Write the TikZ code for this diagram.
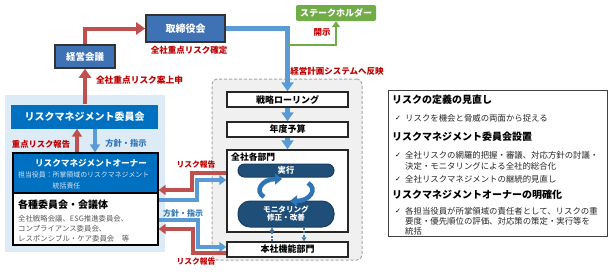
\documentclass[tikz,border=0pt]{standalone}
\usepackage{fontspec}
\setmainfont{Noto Sans CJK JP}
\newfontfamily\djv{DejaVu Sans}
\usetikzlibrary{arrows.meta,calc}
\definecolor{boxblue}{HTML}{3F72B5}
\definecolor{riskblue}{HTML}{0070C0}
\definecolor{panelblue}{HTML}{DDEBF7}
\definecolor{arrred}{HTML}{C0504D}
\definecolor{txtred}{HTML}{C00000}
\definecolor{arrblue}{HTML}{5B9BD5}
\definecolor{txtblue}{HTML}{2E75B6}
\definecolor{stgreen}{HTML}{70AD47}
\definecolor{pillblue}{HTML}{1F4E79}
\definecolor{cycblue}{HTML}{2E75B6}
\definecolor{graytxt}{HTML}{595959}
\definecolor{ownertxt}{HTML}{DDE6F2}
\begin{document}
\begin{tikzpicture}[x=1pt,y=-1pt,
  darkbox/.style={draw=black!80,line width=1.6pt,fill=boxblue,text=white,inner sep=0pt,font=\fontsize{10}{12}\selectfont\bfseries},
  greenbox/.style={fill=stgreen,rounded corners=2pt,text=white,inner sep=0pt,font=\fontsize{9}{11}\selectfont\bfseries},
  flowbox/.style={draw=black!85,line width=1.5pt,fill=white,inner sep=0pt,minimum width=121pt,font=\fontsize{9}{11}\selectfont\bfseries},
  pill/.style={draw=pillblue!80!black,line width=1pt,fill=pillblue,text=white,inner sep=0pt,minimum width=96pt,font=\fontsize{7.6}{9}\selectfont\bfseries,align=center},
  redarr/.style={draw=arrred,line width=4pt,-{Triangle[width=12pt,length=9pt]}},
  bluearr/.style={draw=arrblue,line width=4.5pt,-{Triangle[width=12pt,length=9pt]}},
  redconn/.style={draw=arrred,line width=3.5pt,-{Triangle[width=10pt,length=7pt]}},
  blueconn/.style={draw=arrblue,line width=3.5pt,-{Triangle[width=10pt,length=7pt]}},
  redlbl/.style={text=txtred,inner sep=0pt,font=\fontsize{8.5}{10}\selectfont\bfseries},
  bluelbl/.style={text=txtblue,inner sep=0pt,font=\fontsize{8.3}{10}\selectfont\bfseries},
  head/.style={anchor=west,inner sep=0pt,font=\fontsize{10}{12}\selectfont\bfseries},
  item/.style={anchor=west,inner sep=0pt,text=black!85,font=\fontsize{8.4}{10}\selectfont},
  chk/.style={anchor=west,inner sep=0pt,font=\djv\fontsize{7}{8}\selectfont}
]
\useasboundingbox (0,0) rectangle (613,271);
\fill[white] (0,0) rectangle (613,271);

% panels
\node[fill=panelblue,inner sep=0pt,minimum width=160pt,minimum height=157pt] (lpanel) at (85,173.5) {};
\node[draw=black!35,dashed,dash pattern=on 3pt off 2pt,line width=1pt,fill=black!6,rounded corners=5pt,inner sep=0pt,minimum width=150pt,minimum height=181pt] (cpanel) at (287,169.5) {};

% top boxes
\node[darkbox,minimum width=79pt,minimum height=27pt] (tori) at (185.5,28.5) {取締役会};
\node[darkbox,minimum width=60pt,minimum height=23pt,font=\fontsize{9.5}{11}\selectfont\bfseries] (keiei) at (85,56.5) {経営会議};
\node[greenbox,minimum width=80pt,minimum height=16pt] (stake) at (336,13) {ステークホルダー};

% left
\node[fill=riskblue,inner sep=0pt,minimum width=147pt,minimum height=24pt,text=white,font=\fontsize{10}{12}\selectfont\bfseries] (iinkai) at (84.5,116.5) {リスクマネジメント委員会};
\node[draw=black,line width=1.2pt,fill=riskblue,inner sep=0pt,minimum width=145pt,minimum height=40pt] (owner) at (85.5,173) {};
\node[draw=black,line width=1.2pt,fill=white,inner sep=0pt,minimum width=145pt,minimum height=52pt] (kakushu) at (85.5,219) {};
\node[text=white,inner sep=0pt,font=\fontsize{8.6}{10}\selectfont\bfseries] (ownert) at (91,163) {リスクマネジメントオーナー};
\node[anchor=west,text=ownertxt,inner sep=0pt,font=\fontsize{6.9}{8}\selectfont] (ownera) at (18,175) {担当役員：所掌領域のリスクマネジメント};
\node[anchor=west,text=ownertxt,inner sep=0pt,font=\fontsize{6.9}{8}\selectfont] (ownerb) at (52.5,185.5) {統括責任};
\node[head] (kakt) at (18,205) {各種委員会・会議体};
\node[anchor=west,text=graytxt,inner sep=0pt,font=\fontsize{7.4}{9}\selectfont] (kak1) at (18,219) {全社戦略会議、ESG推進委員会、};
\node[anchor=west,text=graytxt,inner sep=0pt,font=\fontsize{7.4}{9}\selectfont] (kak2) at (18,229) {コンプライアンス委員会、};
\node[anchor=west,text=graytxt,inner sep=0pt,font=\fontsize{7.4}{9}\selectfont] (kak3) at (18,239) {レスポンシブル・ケア委員会　等};

% center flow
\node[flowbox,minimum height=15pt] (senryaku) at (287.5,99.5) {戦略ローリング};
\node[flowbox,minimum height=15pt] (nendo) at (287.5,129.5) {年度予算};
\node[flowbox,minimum height=82pt] (zensha) at (287.5,191) {};
\node[flowbox,minimum height=15pt] (honsha) at (287.5,249.5) {本社機能部門};
\node[anchor=west,inner sep=0pt,font=\fontsize{8.8}{10}\selectfont\bfseries] (zenshat) at (231,157.5) {全社各部門};
\node[pill,minimum height=13pt,rounded corners=6.5pt,font=\fontsize{8.3}{10}\selectfont\bfseries] (jikko) at (286,170.5) {実行};
\node[pill,minimum height=26pt,rounded corners=12pt] (monitor) at (286,214) {モニタリング\\[-1pt]修正・改善};

% cycle arrows
\coordinate (cyc) at (286,190);
\draw[draw=cycblue,line width=4.5pt,-{Triangle[width=11pt,length=7pt]}] ($(cyc)+(-22,7)$) .. controls ($(cyc)+(-32,1)$) and ($(cyc)+(-24,-11)$) .. ($(cyc)+(-4,-11)$);
\draw[draw=cycblue,line width=4.5pt,-{Triangle[width=11pt,length=7pt]}] ($(cyc)+(22,-7)$) .. controls ($(cyc)+(32,-1)$) and ($(cyc)+(24,11)$) .. ($(cyc)+(4,11)$);

% small dashed arrows
\draw[draw=arrblue!80!black,line width=1.6pt,dash pattern=on 2pt off 1.5pt,-{Triangle[width=5pt,length=4pt]}] (honsha.north -| 272,0) -- (monitor.south -| 272,0);
\draw[draw=arrblue!80!black,line width=1.6pt,dash pattern=on 2pt off 1.5pt,-{Triangle[width=5pt,length=4pt]}] (monitor.south -| 304,0) -- (honsha.north -| 304,0);

% flow arrows
\draw[bluearr] (tori.east) -| (senryaku.north);
\draw[bluearr] (senryaku.south) -- (nendo.north);
\draw[bluearr] (nendo.south) -- (zensha.north);
\coordinate (gstart) at (287.5,45);
\draw[draw=stgreen,line width=2.8pt,-{Triangle[width=8pt,length=6pt]}] (gstart) -| (stake.south);
\draw[redarr] (keiei.north) |- (tori.west);
\draw[redarr] (iinkai.north -| keiei.south) -- (keiei.south);

% inner left arrows
\draw[redarr,line width=3.5pt,-{Triangle[width=10pt,length=8pt]}] (owner.north -| 77,0) -- (iinkai.south -| 77,0);
\draw[bluearr,line width=3.5pt,-{Triangle[width=10pt,length=8pt]}] (iinkai.south -| 95,0) -- (owner.north -| 95,0);

% left-center connectors
\draw[redconn] (zensha.west |- 0,173) -| (192,190) -- (owner.east |- 0,190);
\draw[blueconn] (kakushu.east |- 0,200) -| (197,180) -- (zensha.west |- 0,180);
\draw[blueconn] (kakushu.east |- 0,220) -| (198,247) -- (honsha.west |- 0,247);
\draw[redconn] (honsha.west |- 0,253) -| (193,229) -- (kakushu.east |- 0,229);

% labels
\node[redlbl] (l1) at (189,50) {全社重点リスク確定};
\node[redlbl,font=\fontsize{8.7}{10}\selectfont\bfseries] (l2) at (139.5,80) {全社重点リスク案上申};
\node[redlbl] (l3) at (337,71) {経営計画システムへ反映};
\node[redlbl] (l4) at (322,32) {開示};
\node[redlbl,font=\fontsize{8.3}{10}\selectfont\bfseries] (l5) at (41,144) {重点リスク報告};
\node[bluelbl] (l6) at (126,143) {方針・指示};
\node[redlbl,font=\fontsize{7.8}{9}\selectfont\bfseries] (l7) at (196,165) {リスク報告};
\node[bluelbl,font=\fontsize{8}{9}\selectfont\bfseries] (l8) at (183,213) {方針・指示};
\node[redlbl,font=\fontsize{7.8}{9}\selectfont\bfseries] (l9) at (196,262) {リスク報告};

% right box
\node[draw=black!75,line width=1pt,fill=white,inner sep=0pt,minimum width=219pt,minimum height=146pt] (rbox) at (497.5,163) {};
\node[head] (h1) at (392,100) {リスクの定義の見直し};
\node[chk] (c1) at (395,118) {✓};
\node[item] (i1) at (405,118) {リスクを機会と脅威の両面から捉える};
\node[head] (h2) at (392,137) {リスクマネジメント委員会設置};
\node[chk] (c2) at (395,155) {✓};
\node[item] (i2) at (405,155) {全社リスクの網羅的把握・審議、対応方針の討議・};
\node[item] (i3) at (405,166) {決定・モニタリングによる全社的総合化};
\node[chk] (c3) at (395,179) {✓};
\node[item] (i4) at (405,179) {全社リスクマネジメントの継続的見直し};
\node[head] (h3) at (392,195) {リスクマネジメントオーナーの明確化};
\node[chk] (c4) at (395,211.5) {✓};
\node[item] (i5) at (405,211.5) {各担当役員が所掌領域の責任者として、リスクの重};
\node[item] (i6) at (405,221.5) {要度・優先順位の評価、対応策の策定・実行等を};
\node[item] (i7) at (405,231) {統括};
\end{tikzpicture}
\end{document}
